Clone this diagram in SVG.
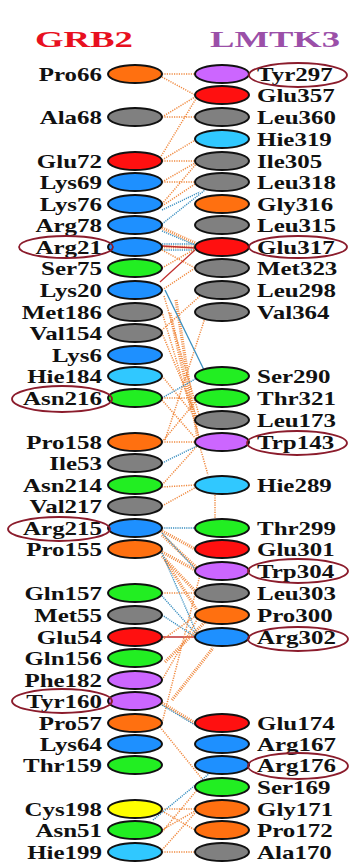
<svg xmlns="http://www.w3.org/2000/svg" width="359" height="865" viewBox="0 0 359 865">
<style>
.lbl{font-family:"Liberation Serif","Times New Roman",serif;font-weight:bold;font-size:19.5px;fill:#111}
.L{text-anchor:end}
.ttl{font-family:"Liberation Serif","Times New Roman",serif;font-weight:bold;font-size:23px}
.n{stroke:#111;stroke-width:2}
.o{fill:#ff7010}.v{fill:#cc66ff}.r{fill:#ff1010}.g{fill:#808080}.c{fill:#30c8ff}.b{fill:#1e90ff}.e{fill:#22ee22}.y{fill:#ffff00}
.hl{fill:none;stroke:#8b1c2c;stroke-width:1.8}
.h{stroke:#f08a40;stroke-width:1.5;stroke-dasharray:1.2 1.2;fill:none}
.hh{stroke:#f08a40;stroke-width:3.2;stroke-dasharray:1 1.2;fill:none}
.bd{stroke:#3a8fc0;stroke-width:1.4;stroke-dasharray:1.2 1;fill:none}
.bs{stroke:#3a8fc0;stroke-width:1.3;fill:none}
.rs{stroke:#c03030;stroke-width:1.3;fill:none}
</style>
<rect width="359" height="865" fill="#fff"/>
<text class="ttl" x="35" y="47" fill="#e8101f" textLength="98" lengthAdjust="spacingAndGlyphs">GRB2</text>
<text class="ttl" x="210" y="47" fill="#9b4fa8" textLength="130" lengthAdjust="spacingAndGlyphs">LMTK3</text>
<g id="connectors">
<path class="h" d="M162 74L195 74M162 77L195 95M162 117L195 97M162 117L195 117M160 158L197 97M162 160L197 139M162 161L195 161M162 182L195 163M162 182L195 182M162 204L197 163M162 206L195 184"/>
<path class="bd" d="M162 210L200 192M162 224L205 190"/>
<path class="hh" d="M162 228L195 243M162 247L195 247"/>
<path class="bd" d="M162 231L195 245M162 244L195 244M162 250L195 250"/>
<path class="rs" d="M162 246L195 248M160 282L195 250"/>
<path class="h" d="M162 268L195 249M162 250L195 268M162 290L195 268M164 296L200 418M162 312L200 440M162 333L198 420M200 296L162 330M205 318L165 440M162 376L198 420M162 398L195 398M162 400L197 440M162 442L195 442M162 442L197 400M162 485L198 445M162 487L195 485M162 506L200 485M200 447L208 475M215 495L215 520"/>
<path class="hh" d="M170 313L192 410M176 300L198 440"/>
<path class="bs" d="M165 290L205 372"/>
<path class="bd" d="M162 398L197 378M162 463L197 446M162 528L195 528"/>
<path class="hh" d="M162 531L195 549M162 535L197 568M162 552L197 571M162 556L197 593M165 560L200 615"/>
<path class="bd" d="M162 533L197 571M162 553L197 634"/>
<path class="h" d="M162 593L195 593"/>
<path class="bd" d="M162 596L197 635M162 615L197 638"/>
<path class="rs" d="M162 637L195 637"/>
<path class="h" d="M162 640L197 615M162 680L198 618M162 723L200 575"/>
<path class="hh" d="M165 662L207 620M172 700L213 648M162 703L195 723"/>
<path class="bd" d="M162 705L195 725"/>
<path class="h" d="M160 727L203 780M162 809L195 809M162 811L195 830M162 830L195 811M162 832L197 790M162 852L195 852M162 850L195 813"/>
<path class="bd" d="M153 820L210 773"/>
</g>
<g id="left-nodes">
<g id="Pro66"><ellipse class="n o" cx="135" cy="74" rx="27" ry="9"/></g>
<g id="Ala68"><ellipse class="n g" cx="135" cy="117" rx="27" ry="9"/></g>
<g id="Glu72"><ellipse class="n r" cx="135" cy="161" rx="27" ry="9"/></g>
<g id="Lys69"><ellipse class="n b" cx="135" cy="182" rx="27" ry="9"/></g>
<g id="Lys76"><ellipse class="n b" cx="135" cy="204" rx="27" ry="9"/></g>
<g id="Arg78"><ellipse class="n b" cx="135" cy="225" rx="27" ry="9"/></g>
<g id="Arg21"><ellipse class="n b" cx="135" cy="247" rx="27" ry="9"/></g>
<g id="Ser75"><ellipse class="n e" cx="135" cy="268" rx="27" ry="9"/></g>
<g id="Lys20"><ellipse class="n b" cx="135" cy="290" rx="27" ry="9"/></g>
<g id="Met186"><ellipse class="n g" cx="135" cy="312" rx="27" ry="9"/></g>
<g id="Val154"><ellipse class="n g" cx="135" cy="333" rx="27" ry="9"/></g>
<g id="Lys6"><ellipse class="n b" cx="135" cy="355" rx="27" ry="9"/></g>
<g id="Hie184"><ellipse class="n c" cx="135" cy="376" rx="27" ry="9"/></g>
<g id="Asn216"><ellipse class="n e" cx="135" cy="398" rx="27" ry="9"/></g>
<g id="Pro158"><ellipse class="n o" cx="135" cy="442" rx="27" ry="9"/></g>
<g id="Ile53"><ellipse class="n g" cx="135" cy="463" rx="27" ry="9"/></g>
<g id="Asn214"><ellipse class="n e" cx="135" cy="485" rx="27" ry="9"/></g>
<g id="Val217"><ellipse class="n g" cx="135" cy="506" rx="27" ry="9"/></g>
<g id="Arg215"><ellipse class="n b" cx="135" cy="528" rx="27" ry="9"/></g>
<g id="Pro155"><ellipse class="n o" cx="135" cy="549" rx="27" ry="9"/></g>
<g id="Gln157"><ellipse class="n e" cx="135" cy="593" rx="27" ry="9"/></g>
<g id="Met55"><ellipse class="n g" cx="135" cy="615" rx="27" ry="9"/></g>
<g id="Glu54"><ellipse class="n r" cx="135" cy="637" rx="27" ry="9"/></g>
<g id="Gln156"><ellipse class="n e" cx="135" cy="658" rx="27" ry="9"/></g>
<g id="Phe182"><ellipse class="n v" cx="135" cy="680" rx="27" ry="9"/></g>
<g id="Tyr160"><ellipse class="n v" cx="135" cy="701" rx="27" ry="9"/></g>
<g id="Pro57"><ellipse class="n o" cx="135" cy="723" rx="27" ry="9"/></g>
<g id="Lys64"><ellipse class="n b" cx="135" cy="744" rx="27" ry="9"/></g>
<g id="Thr159"><ellipse class="n e" cx="135" cy="765" rx="27" ry="9"/></g>
<g id="Cys198"><ellipse class="n y" cx="135" cy="809" rx="27" ry="9"/></g>
<g id="Asn51"><ellipse class="n e" cx="135" cy="830" rx="27" ry="9"/></g>
<g id="Hie199"><ellipse class="n c" cx="135" cy="852" rx="27" ry="9"/></g>
</g>
<g id="right-nodes">
<g id="Tyr297"><ellipse class="n v" cx="222" cy="74" rx="27" ry="9"/></g>
<g id="Glu357"><ellipse class="n r" cx="222" cy="95" rx="27" ry="9"/></g>
<g id="Leu360"><ellipse class="n g" cx="222" cy="117" rx="27" ry="9"/></g>
<g id="Hie319"><ellipse class="n c" cx="222" cy="139" rx="27" ry="9"/></g>
<g id="Ile305"><ellipse class="n g" cx="222" cy="161" rx="27" ry="9"/></g>
<g id="Leu318"><ellipse class="n g" cx="222" cy="182" rx="27" ry="9"/></g>
<g id="Gly316"><ellipse class="n o" cx="222" cy="204" rx="27" ry="9"/></g>
<g id="Leu315"><ellipse class="n g" cx="222" cy="225" rx="27" ry="9"/></g>
<g id="Glu317"><ellipse class="n r" cx="222" cy="247" rx="27" ry="9"/></g>
<g id="Met323"><ellipse class="n g" cx="222" cy="268" rx="27" ry="9"/></g>
<g id="Leu298"><ellipse class="n g" cx="222" cy="290" rx="27" ry="9"/></g>
<g id="Val364"><ellipse class="n g" cx="222" cy="312" rx="27" ry="9"/></g>
<g id="Ser290"><ellipse class="n e" cx="222" cy="376" rx="27" ry="9"/></g>
<g id="Thr321"><ellipse class="n e" cx="222" cy="398" rx="27" ry="9"/></g>
<g id="Leu173"><ellipse class="n g" cx="222" cy="420" rx="27" ry="9"/></g>
<g id="Trp143"><ellipse class="n v" cx="222" cy="442" rx="27" ry="9"/></g>
<g id="Hie289"><ellipse class="n c" cx="222" cy="485" rx="27" ry="9"/></g>
<g id="Thr299"><ellipse class="n e" cx="222" cy="528" rx="27" ry="9"/></g>
<g id="Glu301"><ellipse class="n r" cx="222" cy="549" rx="27" ry="9"/></g>
<g id="Trp304"><ellipse class="n v" cx="222" cy="571" rx="27" ry="9"/></g>
<g id="Leu303"><ellipse class="n g" cx="222" cy="593" rx="27" ry="9"/></g>
<g id="Pro300"><ellipse class="n o" cx="222" cy="615" rx="27" ry="9"/></g>
<g id="Arg302"><ellipse class="n b" cx="222" cy="637" rx="27" ry="9"/></g>
<g id="Glu174"><ellipse class="n r" cx="222" cy="723" rx="27" ry="9"/></g>
<g id="Arg167"><ellipse class="n b" cx="222" cy="744" rx="27" ry="9"/></g>
<g id="Arg176"><ellipse class="n b" cx="222" cy="765" rx="27" ry="9"/></g>
<g id="Ser169"><ellipse class="n e" cx="222" cy="787" rx="27" ry="9"/></g>
<g id="Gly171"><ellipse class="n o" cx="222" cy="809" rx="27" ry="9"/></g>
<g id="Pro172"><ellipse class="n o" cx="222" cy="830" rx="27" ry="9"/></g>
<g id="Ala170"><ellipse class="n g" cx="222" cy="852" rx="27" ry="9"/></g>
</g>
<g id="labels" transform="scale(1.28,1)">
<text class="lbl L" x="79.7" y="81">Pro66</text>
<text class="lbl L" x="79.7" y="124">Ala68</text>
<text class="lbl L" x="79.7" y="168">Glu72</text>
<text class="lbl L" x="79.7" y="189">Lys69</text>
<text class="lbl L" x="79.7" y="211">Lys76</text>
<text class="lbl L" x="79.7" y="232">Arg78</text>
<text class="lbl L" x="79.7" y="254">Arg21</text>
<text class="lbl L" x="79.7" y="275">Ser75</text>
<text class="lbl L" x="79.7" y="297">Lys20</text>
<text class="lbl L" x="79.7" y="319">Met186</text>
<text class="lbl L" x="79.7" y="340">Val154</text>
<text class="lbl L" x="79.7" y="362">Lys6</text>
<text class="lbl L" x="79.7" y="383">Hie184</text>
<text class="lbl L" x="79.7" y="405">Asn216</text>
<text class="lbl L" x="79.7" y="449">Pro158</text>
<text class="lbl L" x="79.7" y="470">Ile53</text>
<text class="lbl L" x="79.7" y="492">Asn214</text>
<text class="lbl L" x="79.7" y="513">Val217</text>
<text class="lbl L" x="79.7" y="535">Arg215</text>
<text class="lbl L" x="79.7" y="556">Pro155</text>
<text class="lbl L" x="79.7" y="600">Gln157</text>
<text class="lbl L" x="79.7" y="622">Met55</text>
<text class="lbl L" x="79.7" y="644">Glu54</text>
<text class="lbl L" x="79.7" y="665">Gln156</text>
<text class="lbl L" x="79.7" y="687">Phe182</text>
<text class="lbl L" x="79.7" y="708">Tyr160</text>
<text class="lbl L" x="79.7" y="730">Pro57</text>
<text class="lbl L" x="79.7" y="751">Lys64</text>
<text class="lbl L" x="79.7" y="772">Thr159</text>
<text class="lbl L" x="79.7" y="816">Cys198</text>
<text class="lbl L" x="79.7" y="837">Asn51</text>
<text class="lbl L" x="79.7" y="859">Hie199</text>
<text class="lbl" x="200.8" y="81">Tyr297</text>
<text class="lbl" x="200.8" y="102">Glu357</text>
<text class="lbl" x="200.8" y="124">Leu360</text>
<text class="lbl" x="200.8" y="146">Hie319</text>
<text class="lbl" x="200.8" y="168">Ile305</text>
<text class="lbl" x="200.8" y="189">Leu318</text>
<text class="lbl" x="200.8" y="211">Gly316</text>
<text class="lbl" x="200.8" y="232">Leu315</text>
<text class="lbl" x="200.8" y="254">Glu317</text>
<text class="lbl" x="200.8" y="275">Met323</text>
<text class="lbl" x="200.8" y="297">Leu298</text>
<text class="lbl" x="200.8" y="319">Val364</text>
<text class="lbl" x="200.8" y="383">Ser290</text>
<text class="lbl" x="200.8" y="405">Thr321</text>
<text class="lbl" x="200.8" y="427">Leu173</text>
<text class="lbl" x="200.8" y="449">Trp143</text>
<text class="lbl" x="200.8" y="492">Hie289</text>
<text class="lbl" x="200.8" y="535">Thr299</text>
<text class="lbl" x="200.8" y="556">Glu301</text>
<text class="lbl" x="200.8" y="578">Trp304</text>
<text class="lbl" x="200.8" y="600">Leu303</text>
<text class="lbl" x="200.8" y="622">Pro300</text>
<text class="lbl" x="200.8" y="644">Arg302</text>
<text class="lbl" x="200.8" y="730">Glu174</text>
<text class="lbl" x="200.8" y="751">Arg167</text>
<text class="lbl" x="200.8" y="772">Arg176</text>
<text class="lbl" x="200.8" y="794">Ser169</text>
<text class="lbl" x="200.8" y="816">Gly171</text>
<text class="lbl" x="200.8" y="837">Pro172</text>
<text class="lbl" x="200.8" y="859">Ala170</text>
</g>
<g id="highlights">
<ellipse class="hl" cx="298" cy="75" rx="49" ry="12"/>
<ellipse class="hl" cx="66" cy="247" rx="47" ry="11"/>
<ellipse class="hl" cx="298" cy="247" rx="49" ry="11"/>
<ellipse class="hl" cx="62" cy="399" rx="50" ry="13"/>
<ellipse class="hl" cx="297" cy="443" rx="50" ry="12"/>
<ellipse class="hl" cx="59" cy="529" rx="51" ry="12"/>
<ellipse class="hl" cx="298" cy="571" rx="50" ry="12"/>
<ellipse class="hl" cx="298" cy="639" rx="50" ry="12"/>
<ellipse class="hl" cx="62" cy="701" rx="50" ry="12"/>
<ellipse class="hl" cx="298" cy="766" rx="50" ry="13"/>
</g>
</svg>
